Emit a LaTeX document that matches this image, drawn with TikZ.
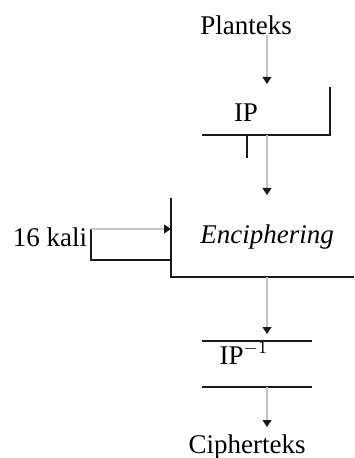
\documentclass[tikz,border=0pt]{standalone}
\usepackage{fontspec}
\setmainfont{Liberation Serif}
\usetikzlibrary{arrows.meta,calc}
\definecolor{abuGaris}{HTML}{C4C4C4}
\definecolor{hitam}{HTML}{1A1A1A}
\tikzset{
  label/.style={inner sep=0pt,font=\fontsize{13.5}{15}\selectfont},
  panah/.style={abuGaris,line width=0.6pt,-{Triangle[length=3.5pt,width=4.5pt,color=hitam]}},
  kotak/.style={hitam,line width=0.7pt}
}
\begin{document}
\begin{tikzpicture}[x=0.5pt,y=-0.5pt]
\useasboundingbox (0,0) rectangle (354,458);
% teks
\node[label] (plain) at (246,25) {Planteks};
\node[label] (ip) at (246,113) {IP};
\node[label,font=\fontsize{13.5}{15}\selectfont\itshape] (enc) at (267,237) {Enciphering};
\node[label] (kali) at (50,237) {16 kali};
\node[label] (ipinv) at (244,353) {IP$^{-1}$};
\node[label] (ciph) at (247,447) {Cipherteks};
% titik sambung
\coordinate (ipmasuk) at (267,84);
\coordinate (ipkeluar) at (267,135);
\coordinate (encmasuk) at (267,195);
\coordinate (enckeluar) at (267,277);
\coordinate (invmasuk) at (267,334);
\coordinate (invkeluar) at (267,387);
\coordinate (ciphmasuk) at (267,427);
\coordinate (ulang) at (91,229);
\coordinate (ulangmasuk) at (171,229);
% kotak IP
\draw[kotak] (202,135) -- (330,135) -- (330,87);
\draw[kotak] (247,135) -- (247,158);
% kotak enciphering
\draw[kotak] (171,198) -- (171,277) -- (354,277);
\draw[kotak] (171,260) -- (91,260) -- (ulang);
% kotak IP invers
\draw[kotak] (202,341) -- (312,341);
\draw[kotak] (202,387) -- (312,387);
% panah
\draw[panah] (plain.south -| ipmasuk) -- (ipmasuk);
\draw[panah] (ipkeluar) -- (encmasuk);
\draw[panah] (ulang) -- (ulangmasuk);
\draw[panah] (enckeluar) -- (invmasuk);
\draw[panah] (invkeluar) -- (ciphmasuk);
\end{tikzpicture}
\end{document}
